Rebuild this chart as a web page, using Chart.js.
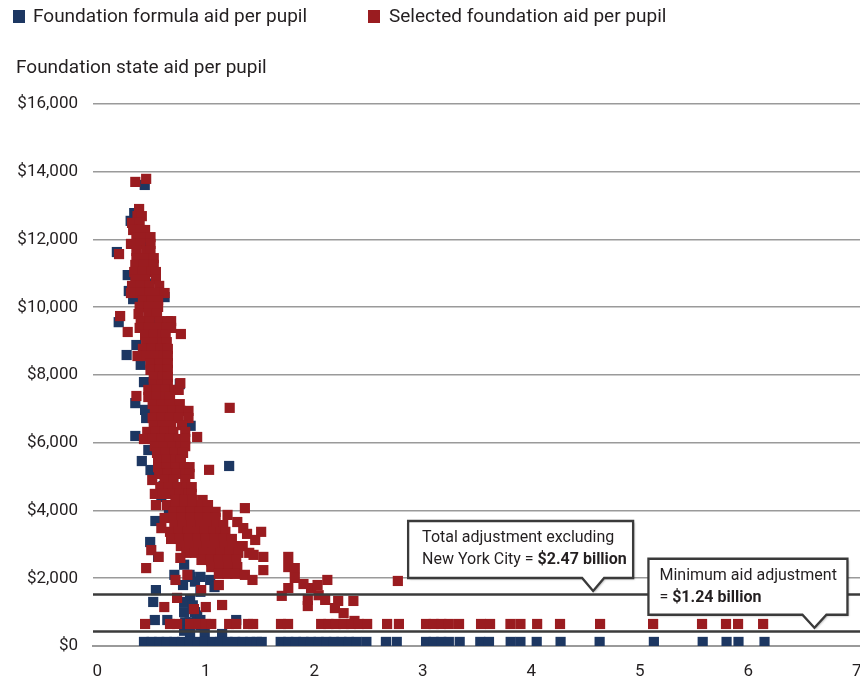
<!DOCTYPE html>
<html>
<head>
<meta charset="utf-8">
<title>Foundation state aid per pupil</title>
<script src="https://cdn.jsdelivr.net/npm/chart.js@4.4.1/dist/chart.umd.min.js"></script>
<style>
  html, body { margin: 0; padding: 0; background: #fff; }
  canvas { display: block; }
</style>
</head>
<body>
<canvas id="chart" width="860" height="687"></canvas>
<script>
// ---- Data -------------------------------------------------------------
const xTickValues = [0, 1, 2, 3, 4, 5, 6, 7];
const yTickValues = [0, 2000, 4000, 6000, 8000, 10000, 12000, 14000, 16000];

// Selected foundation aid per pupil: main band of districts [x, aid]
const selectedCluster = [
  [0.385,12900],
  [0.37,12690],[0.41,12690],
  [0.32,12490],[0.39,12490],
  [0.33,12280],[0.40,12280],[0.44,12280],
  [0.36,12070],[0.44,12070],[0.49,12070],
  [0.31,11870],[0.40,11870],[0.49,11870],
  [0.36,11660],[0.45,11660],[0.49,11660],
  [0.36,11450],[0.44,11450],[0.52,11450],
  [0.35,11250],[0.43,11250],[0.52,11250],
  [0.34,11040],[0.42,11040],[0.50,11040],[0.54,11040],
  [0.35,10830],[0.44,10830],[0.54,10830],
  [0.32,10630],[0.40,10630],[0.48,10630],[0.57,10630],
  [0.31,10420],[0.40,10420],[0.48,10420],[0.56,10420],[0.62,10420],
  [0.42,10210],[0.50,10210],[0.56,10210],
  [0.39,10010],[0.47,10010],[0.56,10010],
  [0.38,9800],[0.47,9800],[0.55,9800],
  [0.40,9590],[0.48,9590],[0.57,9590],[0.65,9590],[0.68,9590],
  [0.39,9390],[0.47,9390],[0.56,9390],[0.64,9390],[0.68,9390],
  [0.44,9180],[0.52,9180],[0.60,9180],[0.63,9180],
  [0.45,8970],[0.53,8970],[0.60,8970],[0.64,8970],
  [0.42,8770],[0.50,8770],[0.58,8770],[0.65,8770],
  [0.37,8560],[0.45,8560],[0.53,8560],[0.61,8560],[0.65,8560],
  [0.49,8350],[0.57,8350],[0.65,8350],
  [0.49,8150],[0.57,8150],[0.65,8150],
  [0.52,7940],[0.60,7940],[0.65,7940],
  [0.52,7730],[0.59,7730],[0.65,7730],
  [0.47,7560],[0.55,7560],[0.63,7560],[0.71,7560],[0.75,7560],
  [0.47,7350],[0.55,7350],[0.63,7350],[0.67,7350],
  [0.51,7140],[0.59,7140],[0.67,7140],[0.76,7140],
  [0.53,6940],[0.61,6940],[0.69,6940],[0.77,6940],[0.84,6940],
  [0.51,6730],[0.59,6730],[0.67,6730],[0.75,6730],[0.84,6730],
  [0.52,6520],[0.60,6520],[0.68,6520],[0.78,6520],
  [0.46,6320],[0.54,6320],[0.62,6320],[0.70,6320],[0.81,6320],
  [0.43,6110],[0.51,6110],[0.59,6110],[0.67,6110],[0.75,6110],[0.81,6110],
  [0.53,5900],[0.61,5900],[0.69,5900],[0.77,5900],[0.81,5900],
  [0.55,5700],[0.63,5700],[0.71,5700],[0.79,5700],
  [0.56,5490],[0.64,5490],[0.72,5490],[0.77,5490],
  [0.56,5280],[0.64,5280],[0.72,5280],[0.80,5280],[0.85,5280],
  [0.57,5080],[0.65,5080],[0.73,5080],[0.81,5080],[0.85,5080],
  [0.62,4900],[0.70,4900],[0.81,4900],
  [0.58,4690],[0.66,4690],[0.74,4690],[0.82,4690],[0.87,4690],
  [0.53,4490],[0.60,4490],[0.68,4490],[0.76,4490],[0.84,4490],[0.87,4490],
  [0.72,4310],[0.80,4310],[0.88,4310],[0.97,4310],
  [0.64,4160],[0.72,4160],[0.80,4160],[0.88,4160],[0.96,4160],[1.02,4160],
  [0.70,3960],[0.78,3960],[0.86,3960],[0.94,3960],[1.02,3960],[1.09,3960],
  [0.62,3780],[0.70,3780],[0.78,3780],[0.86,3780],[0.94,3780],[1.02,3780],[1.09,3780],
  [0.71,3570],[0.79,3570],[0.87,3570],[0.95,3570],[1.03,3570],[1.10,3570],[1.16,3570],
  [0.67,3370],[0.75,3370],[0.83,3370],[0.91,3370],[0.99,3370],[1.07,3370],[1.14,3370],[1.18,3370],
  [0.68,3160],[0.76,3160],[0.84,3160],[0.92,3160],[1.00,3160],[1.08,3160],[1.16,3160],[1.24,3160],
  [0.77,2950],[0.85,2950],[0.93,2950],[1.01,2950],[1.09,2950],[1.17,2950],[1.25,2950],[1.34,2950],
  [0.82,2750],[0.90,2750],[0.98,2750],[1.06,2750],[1.14,2750],[1.22,2750],[1.30,2750],[1.40,2750],
  [0.96,2540],[1.04,2540],[1.12,2540],[1.20,2540],[1.28,2540],
  [1.05,2330],[1.13,2330],[1.21,2330],[1.29,2330],
  [1.12,2130],[1.20,2130],[1.27,2130]
];

// Selected foundation aid per pupil: scattered districts outside the band
const selectedOutliers = [
  [0.35,13700],[0.45,13790],[0.20,11570],[0.21,9740],[0.28,9270],[0.77,9210],
  [0.765,7760],[0.36,7380],[1.22,7030],[0.92,6170],[1.03,5200],[0.506,4900],
  [0.54,4160],[1.36,4070],[1.20,3870],[1.29,3660],[1.345,3480],[1.51,3370],
  [1.38,3310],[1.455,3130],[0.59,3480],[0.497,2830],[0.565,2630],[0.765,2600],
  [1.44,2690],[1.53,2630],[1.76,2630],[0.45,2300],[1.53,2240],[1.76,2330],
  [1.82,2300],[1.82,2010],[1.36,2100],[0.72,1950],[1.43,1950],[1.90,1830],
  [1.97,1710],[2.03,1800],[2.12,1950],[1.12,1800],[0.957,1650],[1.76,1710],
  [1.70,1480],[0.735,1420],[2.04,1500],[1.94,1360],[1.94,1180],[2.10,1360],
  [2.22,1330],[2.19,1120],[2.36,1330],[2.27,970],[2.37,740],[2.77,1920],
  [0.617,1150],[0.89,1090],[1.00,1150],[1.15,1210],[0.83,2100]
];

// Selected foundation aid per pupil: districts held at the minimum aid level
const selectedMinimumRow = [
  [0.44,650],[0.67,650],[0.735,650],[0.855,650],[0.93,650],[1.00,650],[1.05,650],
  [1.215,650],[1.28,650],[1.39,650],[1.436,650],[1.693,650],[1.758,650],
  [2.063,650],[2.13,650],[2.20,650],[2.27,650],[2.34,650],[2.41,650],[2.487,650],
  [2.671,650],[2.78,650],[3.03,650],[3.10,650],[3.17,650],[3.24,650],[3.334,650],
  [3.537,650],[3.62,650],[3.808,650],[3.90,650],[4.054,650],[4.265,650],
  [4.634,650],[5.123,650],[5.574,650],[5.795,650],[5.906,650],[6.137,650]
];

// Foundation formula aid per pupil: districts in and beside the band
const formulaCluster = [
  [0.437,13610],[0.34,12780],[0.307,12550],[0.38,12400],[0.18,11630],[0.42,11900],
  [0.40,11300],[0.28,10950],[0.45,10700],[0.29,10480],[0.33,10240],[0.62,10300],
  [0.44,10000],[0.197,9560],[0.50,9500],[0.48,9000],[0.36,8885],[0.27,8590],
  [0.55,8400],[0.40,8300],[0.43,7790],[0.57,7800],[0.76,7730],[0.55,7200],
  [0.35,7170],[0.44,6970],[0.45,6730],[0.60,6600],[0.86,6500],[0.35,6200],
  [0.62,6000],[0.47,5785],[0.41,5460],[0.65,5400],[1.215,5314],[0.49,5195],
  [0.70,4800],[0.61,4720],[0.59,4400],[0.75,4300],[0.72,4160],[0.66,3930],
  [0.80,3800],[0.73,3720],[0.535,3690],[0.85,3300],[0.487,3070],[0.95,2900],
  [0.56,2630],[1.05,2500],[0.80,2400],[0.71,2100],[0.85,2100],[0.86,2040],
  [0.95,2040],[1.04,1950],[0.90,1900],[0.79,1800],[1.08,1740],[0.54,1650],
  [0.95,1600],[0.855,1360],[0.80,1300],[0.515,1300],[0.88,1200],[0.80,1000],
  [0.90,1000],[0.92,900],[0.53,767],[0.645,767],[0.95,767],[1.28,767],
  [0.81,700],[0.85,700],[0.95,600],[0.80,450],[0.855,354],[0.99,354],[1.15,354]
];

// Foundation formula aid per pupil: districts near zero formula aid
const formulaBaseRow = [
  [0.43,120],[0.50,120],[0.57,120],[0.64,120],[0.71,120],[0.78,120],[0.85,120],
  [0.92,120],[0.99,120],[1.06,120],[1.13,120],[1.20,120],[1.27,120],[1.34,120],
  [1.41,120],[1.47,120],[1.515,120],
  [1.69,120],[1.76,120],[1.83,120],[1.90,120],[1.97,120],[2.04,120],[2.11,120],
  [2.18,120],[2.25,120],[2.32,120],[2.39,120],[2.48,120],
  [2.66,120],[2.76,120],[3.03,120],[3.10,120],[3.17,120],[3.24,120],[3.34,120],
  [3.53,120],[3.61,120],[3.81,120],[3.90,120],[4.05,120],[4.27,120],[4.63,120],
  [5.13,120],[5.58,120],[5.80,120],[5.91,120],[6.15,120]
];

// Aid levels of the two adjustment lines and where their callouts point
const adjustmentLevels = [1535, 450];
const calloutAnchorsX = [4.57, 6.61];
const calloutTexts = [
  [[{ t: 'Total adjustment excluding', b: false }],
   [{ t: 'New York City = ', b: false }, { t: '$2.47 billion', b: true }]],
  [[{ t: 'Minimum aid adjustment', b: false }],
   [{ t: '= ', b: false }, { t: '$1.24 billion', b: true }]]
];

// ---- Styling -----------------------------------------------------------
const BLUE = '#1d3762';
const RED = '#9a1c20';
const TEXT = '#231f20';
const FONT = 'Roboto, "Liberation Sans", sans-serif';

const toPoints = (rows) => rows.map(([x, y]) => ({ x, y }));

// Legend, axis title, adjustment lines and callouts
const overlay = {
  id: 'overlay',
  afterDatasetsDraw(chart) {
    const { ctx, chartArea, scales } = chart;
    ctx.save();
    ctx.strokeStyle = '#3b3b3b';
    ctx.lineWidth = 2.6;
    adjustmentLevels.forEach((v) => {
      const y = Math.round(scales.y.getPixelForValue(v)) + 0.5;
      ctx.beginPath();
      ctx.moveTo(chartArea.left, y);
      ctx.lineTo(chartArea.right, y);
      ctx.stroke();
    });
    ctx.restore();
  },
  afterDraw(chart) {
    const { ctx, scales } = chart;
    ctx.save();
    ctx.textBaseline = 'middle';
    ctx.fillStyle = TEXT;

    // legend
    const ds = chart.data.datasets;
    const legendItems = [
      { color: ds[0].backgroundColor, label: ds[0].label, box: 13, text: 33 },
      { color: ds[1].backgroundColor, label: ds[1].label, box: 368, text: 389 }
    ];
    ctx.font = '19px ' + FONT;
    legendItems.forEach((it) => {
      ctx.fillStyle = it.color;
      ctx.fillRect(it.box, 10, 12, 13);
      ctx.fillStyle = TEXT;
      ctx.fillText(it.label, it.text, 17);
    });

    // axis title
    ctx.fillText('Foundation state aid per pupil', 16, 68);

    // callouts
    const shapes = [
      { left: -185, right: 40, top: -70, bottom: -13, notch: 11, textX: 14, lineY: [-53, -31] },
      { left: -166, right: 33, top: -69, bottom: -13, notch: 12, textX: 11, lineY: [-52, -30] }
    ];
    shapes.forEach((s, i) => {
      const tipX = scales.x.getPixelForValue(calloutAnchorsX[i]);
      const tipY = scales.y.getPixelForValue(adjustmentLevels[i]) - 3;
      const L = tipX + s.left, R = tipX + s.right, T = tipY + s.top, B = tipY + s.bottom;
      ctx.save();
      ctx.beginPath();
      ctx.moveTo(L, T);
      ctx.lineTo(R, T);
      ctx.lineTo(R, B);
      ctx.lineTo(tipX + s.notch, B);
      ctx.lineTo(tipX, tipY);
      ctx.lineTo(tipX - s.notch, B);
      ctx.lineTo(L, B);
      ctx.closePath();
      ctx.shadowColor = 'rgba(0,0,0,0.28)';
      ctx.shadowOffsetX = 1.5;
      ctx.shadowOffsetY = 1.5;
      ctx.shadowBlur = 2;
      ctx.fillStyle = '#ffffff';
      ctx.fill();
      ctx.shadowColor = 'transparent';
      ctx.lineWidth = 2.3;
      ctx.lineJoin = 'miter';
      ctx.strokeStyle = '#3a3a3a';
      ctx.stroke();
      ctx.restore();

      calloutTexts[i].forEach((line, j) => {
        let x = L + s.textX;
        const y = tipY + s.lineY[j];
        line.forEach((seg) => {
          ctx.font = (seg.b ? 'bold ' : '') + '16px ' + FONT;
          ctx.fillStyle = TEXT;
          ctx.fillText(seg.t, x, y);
          x += ctx.measureText(seg.t).width;
        });
      });
    });
    ctx.restore();
  }
};

new Chart(document.getElementById('chart'), {
  type: 'scatter',
  data: {
    datasets: [
      {
        label: 'Foundation formula aid per pupil',
        data: toPoints(formulaCluster.concat(formulaBaseRow)),
        backgroundColor: BLUE,
        borderWidth: 0,
        pointStyle: 'rect',
        pointRadius: 7.2,
        pointHoverRadius: 7.2,
        order: 2
      },
      {
        label: 'Selected foundation aid per pupil',
        data: toPoints(selectedCluster.concat(selectedOutliers, selectedMinimumRow)),
        backgroundColor: RED,
        borderWidth: 0,
        pointStyle: 'rect',
        pointRadius: 7.2,
        pointHoverRadius: 7.2,
        order: 1
      }
    ]
  },
  options: {
    responsive: false,
    animation: false,
    events: [],
    layout: { autoPadding: false, padding: { top: 104, left: 0, right: 0, bottom: 0 } },
    plugins: {
      legend: { display: false },
      tooltip: { enabled: false }
    },
    scales: {
      x: {
        type: 'linear',
        min: -0.04,
        max: 7.03,
        afterBuildTicks: (s) => { s.ticks = xTickValues.map((v) => ({ value: v })); },
        afterFit: (s) => { s.height = 41; s.paddingLeft = 0; s.paddingRight = 0; },
        grid: { display: false, drawTicks: false },
        border: { display: true, color: '#9a9a9a', width: 2 },
        ticks: {
          padding: 16,
          color: TEXT,
          font: { family: FONT, size: 17 },
          maxRotation: 0,
          autoSkip: false,
          callback: (v) => String(v)
        }
      },
      y: {
        type: 'linear',
        min: 0,
        max: 16000,
        afterBuildTicks: (s) => { s.ticks = yTickValues.map((v) => ({ value: v })); },
        afterFit: (s) => { s.width = 93; s.paddingTop = 0; s.paddingBottom = 0; },
        grid: { color: '#9a9a9a', lineWidth: 1.6, drawTicks: false },
        border: { display: false },
        ticks: {
          padding: 15,
          color: TEXT,
          font: { family: FONT, size: 17 },
          callback: (v) => '$' + Number(v).toLocaleString('en-US')
        }
      }
    }
  },
  plugins: [overlay]
});
</script>
</body>
</html>
